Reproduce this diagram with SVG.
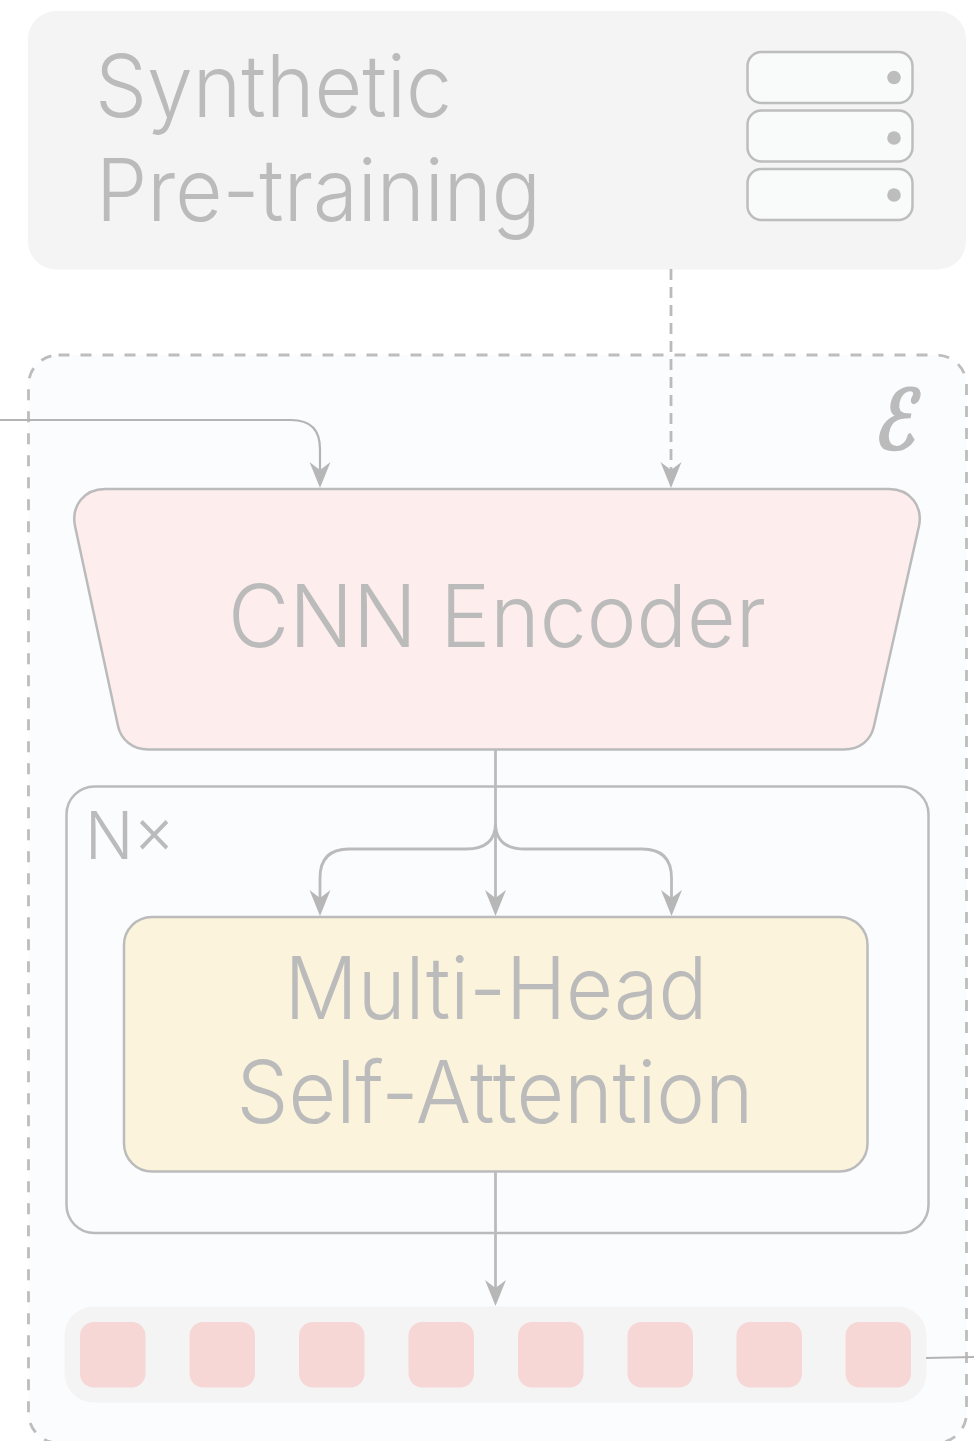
<svg xmlns="http://www.w3.org/2000/svg" width="974" height="1441" viewBox="0 0 974 1441">
<style>
.t{font-family:"Inter","Liberation Sans",sans-serif;font-weight:300;font-size:86px;fill:#bbbbbb}
.m{text-anchor:middle}
.c{fill:none;stroke:#bbbbbb;stroke-width:2.8}
.th{fill:none;stroke:#b4b4b4;stroke-width:2.2}
.b{fill:#f9fbfa;stroke:#bdbdbd;stroke-width:2.5}
.d{fill:#bdbdbd}
.s{fill:#f6d7d6}
</style>
<defs>
<marker id="a" markerUnits="userSpaceOnUse" markerWidth="26" markerHeight="22" refX="10" refY="11" orient="auto" viewBox="0 0 26 22">
<path d="M0 0.500 L8 11 L0 21.500 L26 11 Z" fill="#b7b7b7"/>
</marker>
</defs>
<rect width="974" height="1441" fill="#ffffff"/>
<g id="pretraining">
<rect x="28" y="11" width="938" height="258.500" rx="28" fill="#f4f4f4"/>
<text class="t" x="95" y="117" textLength="357" lengthAdjust="spacingAndGlyphs">Synthetic</text>
<text class="t" x="96" y="221" textLength="445" lengthAdjust="spacingAndGlyphs">Pre-training</text>
<g id="server">
<rect class="b" x="747.500" y="52" width="165" height="51" rx="14"/><circle class="d" cx="894" cy="77.500" r="6.800"/>
<rect class="b" x="747.500" y="110.500" width="165" height="51" rx="14"/><circle class="d" cx="894" cy="138" r="6.800"/>
<rect class="b" x="747.500" y="169" width="165" height="51" rx="14"/><circle class="d" cx="894" cy="195" r="6.800"/>
</g>
</g>
<g id="encoder-region">
<rect x="28.500" y="355" width="938" height="1088" rx="30" fill="#fbfcfe" stroke="#bdbdbd" stroke-width="2.800" stroke-dasharray="11 11"/>
<text transform="translate(873 449) skewX(-12) scale(0.7 1)" font-family="DejaVu Sans,sans-serif" font-style="italic" font-weight="700" font-size="83" fill="#bbbbbb" stroke="#bbbbbb" stroke-width="2">ℰ</text>
</g>
<g id="nx-block">
<rect x="66.500" y="786.500" width="862" height="446.500" rx="28" fill="#fbfcfe" stroke="#bbbbbb" stroke-width="2.500"/>
<text class="t" x="85" y="859" style="font-size:66px" textLength="90" lengthAdjust="spacingAndGlyphs">N×</text>
</g>
<g id="cnn-encoder">
<path d="M105 489 H889 C910 489 923 506 919 526 L874 726 C871 740 860 749.500 844 749.500 H148 C133 749.500 121 740 118 726 L75 526 C71 506 84 489 105 489 Z" fill="#fdeded" stroke="#bbbbbb" stroke-width="2.500"/>
<text class="t m" x="497" y="647" textLength="538" lengthAdjust="spacingAndGlyphs">CNN Encoder</text>
</g>
<g id="attention">
<rect x="124" y="917" width="743.500" height="254.500" rx="28" fill="#fbf3dc" stroke="#bbbbbb" stroke-width="2.500"/>
<text class="t m" x="496" y="1019" textLength="423" lengthAdjust="spacingAndGlyphs">Multi-Head</text>
<text class="t m" x="495" y="1123" textLength="517" lengthAdjust="spacingAndGlyphs">Self-Attention</text>
</g>
<g id="tokens">
<rect x="64.500" y="1306.500" width="862" height="96" rx="29" fill="#f4f4f4"/>
<rect class="s" x="80" y="1322" width="65.500" height="65.500" rx="14"/>
<rect class="s" x="189.500" y="1322" width="65.500" height="65.500" rx="14"/>
<rect class="s" x="299" y="1322" width="65.500" height="65.500" rx="14"/>
<rect class="s" x="408.500" y="1322" width="65.500" height="65.500" rx="14"/>
<rect class="s" x="518" y="1322" width="65.500" height="65.500" rx="14"/>
<rect class="s" x="627.500" y="1322" width="65.500" height="65.500" rx="14"/>
<rect class="s" x="736.500" y="1322" width="65.500" height="65.500" rx="14"/>
<rect class="s" x="845.500" y="1322" width="65.500" height="65.500" rx="14"/>
</g>
<g id="connectors">
<path class="th" d="M0 420 H291 Q320 420 320 449 V472" marker-end="url(#a)"/>
<path class="c" d="M671 269 V472" stroke-dasharray="11 7" marker-end="url(#a)"/>
<path class="c" d="M495.500 749 V900" marker-end="url(#a)"/>
<path class="c" d="M495.500 823 Q495.500 849 466 849 H349 Q320 849 320 878 V900" marker-end="url(#a)"/>
<path class="c" d="M495.500 823 Q495.500 849 525 849 H642 Q671.500 849 671.500 878 V900" marker-end="url(#a)"/>
<path class="c" d="M495.500 1171 V1290" marker-end="url(#a)"/>
<path class="th" d="M926 1358 L974 1357"/>
</g>
</svg>
